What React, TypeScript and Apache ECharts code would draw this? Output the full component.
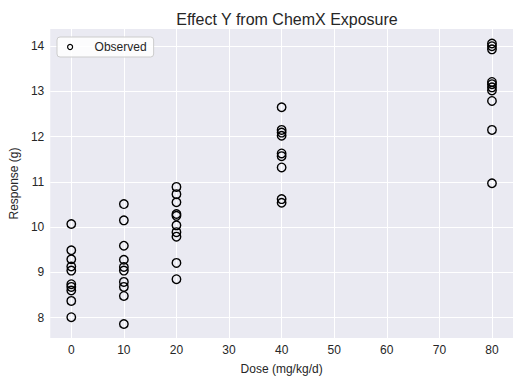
import React, { useEffect, useRef } from "react";
import * as echarts from "echarts";

const doses = [0, 10, 20, 40, 80];
const dose0 = [10.07, 9.49, 9.29, 9.13, 9.04, 8.74, 8.68, 8.6, 8.37, 8.01];
const dose10 = [10.51, 10.15, 9.59, 9.28, 9.12, 9.04, 8.79, 8.68, 8.48, 7.86];
const dose20 = [10.89, 10.73, 10.55, 10.29, 10.25, 10.04, 9.89, 9.79, 9.21, 8.85];
const dose40 = [12.65, 12.15, 12.09, 12.02, 11.63, 11.57, 11.32, 10.62, 10.54];
const dose80 = [14.06, 14.0, 13.93, 13.21, 13.16, 13.09, 13.02, 12.79, 12.15, 10.97];
const xTicks = [0, 10, 20, 30, 40, 50, 60, 70, 80];
const yTicks = [8, 9, 10, 11, 12, 13, 14];

const groups = [dose0, dose10, dose20, dose40, dose80];

export default function App() {
  const ref = useRef<HTMLDivElement>(null);
  useEffect(() => {
    document.body.style.margin = "0";
    const chart = echarts.init(ref.current!, null, { renderer: "svg" });
    const data: number[][] = [];
    groups.forEach((g, i) => g.forEach((v) => data.push([doses[i], v])));
    const font = "Liberation Sans, Arial, sans-serif";
    const textColor = "#262626";
    chart.setOption({
      animation: false,
      backgroundColor: "#ffffff",
      title: {
        text: "Effect Y from ChemX Exposure",
        left: 282,
        textAlign: "center",
        top: 6,
        textStyle: { fontFamily: font, fontSize: 16, fontWeight: "normal", color: textColor },
      },
      grid: { left: 50, right: 11, top: 29, bottom: 48, backgroundColor: "#EAEAF2", show: true, borderWidth: 0 },
      legend: {
        left: 57,
        top: 37,
        orient: "vertical",
        padding: [4, 7, 4, 10],
        backgroundColor: "rgba(255,255,255,0.85)",
        borderColor: "#cccccc",
        borderWidth: 1,
        borderRadius: 3,
        itemWidth: 13,
        itemHeight: 5,
        data: ["Observed"],
        itemStyle: { borderWidth: 1.2 },
        textStyle: { fontFamily: font, fontSize: 12, color: textColor, padding: [0, 0, 0, 13] },
      },
      xAxis: {
        type: "value",
        min: -4,
        max: 84,
        name: "Dose (mg/kg/d)",
        nameLocation: "middle",
        nameGap: 25,
        nameTextStyle: { fontFamily: font, fontSize: 12, color: textColor },
        axisLine: { show: false },
        axisTick: { show: false, customValues: xTicks },
        axisLabel: { customValues: xTicks, fontFamily: font, fontSize: 12, color: textColor, margin: 6 },
        splitLine: { show: true, lineStyle: { color: "#ffffff", width: 1 } },
      },
      yAxis: {
        type: "value",
        min: 7.55,
        max: 14.38,
        name: "Response (g)",
        nameLocation: "middle",
        nameGap: 28,
        nameTextStyle: { fontFamily: font, fontSize: 12, color: textColor },
        axisLine: { show: false },
        axisTick: { show: false, customValues: yTicks },
        axisLabel: { customValues: yTicks, fontFamily: font, fontSize: 12, color: textColor, margin: 6 },
        splitLine: { show: true, lineStyle: { color: "#ffffff", width: 1 } },
      },
      series: [
        {
          name: "Observed",
          type: "scatter",
          symbol: "circle",
          symbolSize: 8.5,
          data,
          itemStyle: { color: "rgba(0,0,0,0)", borderColor: "#000000", borderWidth: 1.4, opacity: 1 },
        },
      ],
    });
    return () => chart.dispose();
  }, []);
  return <div ref={ref} style={{ width: 524, height: 386 }} />;
}
